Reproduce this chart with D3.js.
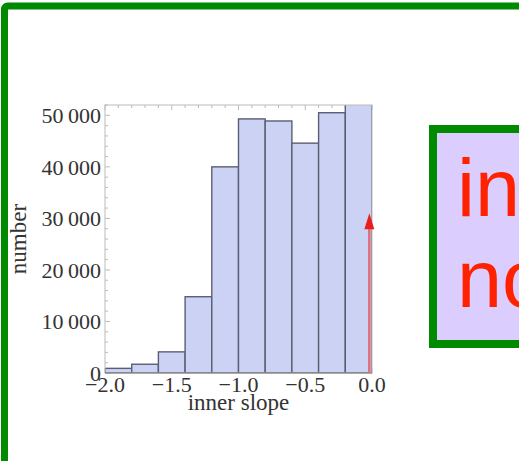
<!DOCTYPE html>
<html>
<head>
<meta charset="utf-8">
<script src="https://cdn.jsdelivr.net/npm/d3@7"></script>
<style>
  body { margin: 0; background: #fff; overflow: hidden; }
  svg { display: block; }
</style>
</head>
<body>
<script>
// histogram bins (left edges, width 0.2) and counts
var binEdges = [-2.0, -1.8, -1.6, -1.4, -1.2, -1.0, -0.8, -0.6, -0.4, -0.2, 0.0];
var counts = [900, 1700, 4100, 14800, 40000, 49300, 48900, 44600, 50500, 52500];
var xTicks = [-2.0, -1.5, -1.0, -0.5, 0.0];
var yTicks = [0, 10000, 20000, 30000, 40000, 50000];
var arrowAt = [-0.02, 31000]; // marker arrow (x value, height)
var boxLines = ["in", "no"];

var w = 519, h = 461;
var pLeft = 105, pRight = 372, pTop = 105, pBottom = 373;

var svg = d3.select("body").append("svg")
    .attr("width", w)
    .attr("height", h);

// outer green frame (runs off the page)
svg.append("rect")
    .attr("x", 4.5).attr("y", 6)
    .attr("width", 700).attr("height", 700)
    .attr("rx", 3)
    .attr("fill", "none")
    .attr("stroke", "#008a00")
    .attr("stroke-width", 7);

var x = d3.scaleLinear().domain([-2, 0]).range([pLeft, pRight]);
var y = d3.scaleLinear().domain([0, 52000]).range([pBottom, pTop]);

var bins = counts.map(function(c, i) { return { x0: binEdges[i], x1: binEdges[i + 1], n: c }; });

var plot = svg.append("g");

plot.append("clipPath").attr("id", "clip")
    .append("rect").attr("x", pLeft).attr("y", pTop)
    .attr("width", pRight - pLeft).attr("height", pBottom - pTop);

// frame ticks (minor + major), light gray
var minorX = d3.range(0, 21).map(function(i) { return -2 + i * 0.1; });
var minorY = d3.range(0, 27).map(function(i) { return i * 2000; });
var frame = plot.append("g").attr("stroke", "#aaa").attr("stroke-width", 0.8);
frame.selectAll(".tx").data(minorX).enter().append("line")
    .attr("x1", function(d) { return x(d); }).attr("x2", function(d) { return x(d); })
    .attr("y1", pTop).attr("y2", function(d, i) { return pTop + (i % 5 == 0 ? 5 : 3); });
frame.selectAll(".bx").data(minorX).enter().append("line")
    .attr("x1", function(d) { return x(d); }).attr("x2", function(d) { return x(d); })
    .attr("y1", pBottom).attr("y2", function(d, i) { return pBottom - (i % 5 == 0 ? 5 : 3); });
frame.selectAll(".ly").data(minorY).enter().append("line")
    .attr("y1", function(d) { return y(d); }).attr("y2", function(d) { return y(d); })
    .attr("x1", pLeft).attr("x2", function(d, i) { return pLeft + (i % 5 == 0 ? 5 : 3); });

// bars
plot.append("g").attr("clip-path", "url(#clip)")
    .selectAll("rect").data(bins).enter().append("rect")
    .attr("x", function(d) { return x(d.x0); })
    .attr("width", function(d) { return x(d.x1) - x(d.x0); })
    .attr("y", function(d) { return y(d.n); })
    .attr("height", function(d) { return y(0) - y(d.n); })
    .attr("fill", "#ccd2f4")
    .attr("stroke", "#5a5e74")
    .attr("stroke-width", 1.4);

// frame lines
plot.append("rect")
    .attr("x", pLeft).attr("y", pTop)
    .attr("width", pRight - pLeft).attr("height", pBottom - pTop)
    .attr("fill", "none").attr("stroke", "#bbb").attr("stroke-width", 1);
plot.append("line")
    .attr("x1", pLeft).attr("x2", pRight).attr("y1", pBottom).attr("y2", pBottom)
    .attr("stroke", "#777").attr("stroke-width", 1.2);

// red arrow
var ax = x(arrowAt[0]), ay = y(arrowAt[1]);
plot.append("line")
    .attr("x1", ax).attr("x2", ax)
    .attr("y1", pBottom).attr("y2", ay + 12)
    .attr("stroke", "#e0707c").attr("stroke-width", 2.6);
plot.append("path")
    .attr("d", "M" + ax + "," + ay + "L" + (ax - 5) + "," + (ay + 16) + "L" + (ax + 5) + "," + (ay + 16) + "Z")
    .attr("fill", "#ea1c1c");

// tick labels
var fmt = function(d) {
    if (d == 0) return "0";
    var s = String(d);
    return s.slice(0, s.length - 3) + "\u2009" + s.slice(-3);
};
plot.selectAll(".yl").data(yTicks).enter().append("text")
    .attr("x", pLeft - 4)
    .attr("y", function(d) { return y(d); })
    .attr("dy", "0.35em")
    .attr("text-anchor", "end")
    .attr("font-family", "Liberation Serif")
    .attr("font-size", "22px")
    .attr("fill", "#333")
    .text(fmt);

plot.selectAll(".xl").data(xTicks).enter().append("text")
    .attr("x", function(d) { return x(d); })
    .attr("y", pBottom + 19)
    .attr("text-anchor", "middle")
    .attr("font-family", "Liberation Serif")
    .attr("font-size", "22px")
    .attr("fill", "#333")
    .text(function(d) { return (d < 0 ? "\u2212" : "") + Math.abs(d).toFixed(1); });

// axis labels
svg.append("text")
    .attr("x", (pLeft + pRight) / 2)
    .attr("y", 410)
    .attr("text-anchor", "middle")
    .attr("font-family", "Liberation Serif")
    .attr("font-size", "23px")
    .attr("fill", "#333")
    .text("inner slope");

svg.append("text")
    .attr("transform", "translate(26,239) rotate(-90)")
    .attr("text-anchor", "middle")
    .attr("font-family", "Liberation Serif")
    .attr("font-size", "23px")
    .attr("fill", "#333")
    .text("number");

// right side text box
svg.append("rect")
    .attr("x", 433).attr("y", 129)
    .attr("width", 200).attr("height", 215)
    .attr("fill", "#dccdff")
    .attr("stroke", "#008a00")
    .attr("stroke-width", 8);

svg.selectAll(".bt").data(boxLines).enter().append("text")
    .attr("x", 457)
    .attr("y", function(d, i) { return 216 + i * 91; })
    .attr("font-family", "Liberation Sans")
    .attr("font-size", "81px")
    .attr("fill", "#ff2200")
    .text(function(d) { return d; });
</script>
</body>
</html>
